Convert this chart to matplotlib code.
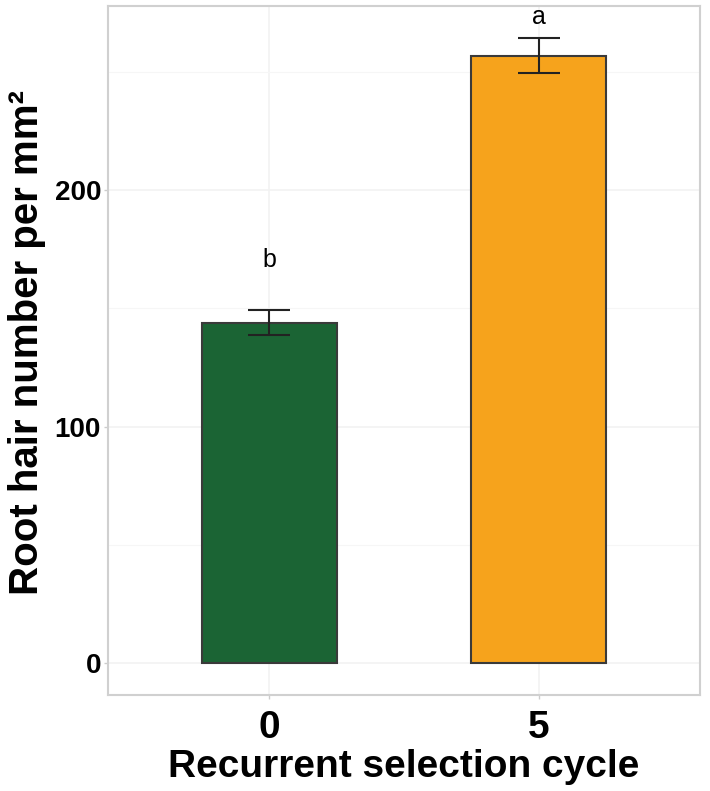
import numpy as np
import matplotlib.pyplot as plt

# data
cycles = ['0', '5']
root_hair = [143.8, 256.8]
std_err = [5.3, 7.4]
letters = ['b', 'a']
letter_y = [170.4, 273.0]
colors = ['#1b6434', '#f6a31c']

plt.rcParams['font.family'] = ['Liberation Sans', 'DejaVu Sans']

fig = plt.figure(figsize=(7.1, 7.91), dpi=100)
ax = fig.add_axes([108 / 710, 1 - 695 / 791, 592 / 710, 689 / 791])

x = np.arange(len(cycles))
ax.bar(x, root_hair, width=0.5, color=colors, edgecolor='#3a3a3a',
       linewidth=1.5, zorder=3)
ax.errorbar(x, root_hair, yerr=std_err, fmt='none', ecolor='#222222',
            elinewidth=1.5, capsize=15, capthick=1.5, zorder=4)
for xi, lab, ly in zip(x, letters, letter_y):
    ax.text(xi, ly, lab, ha='center', va='center', fontsize=18, color='black')

ax.set_xlim(-0.6, 1.6)
ax.set_ylim(-13.5, 277.8)
ax.set_yticks([0, 100, 200])
ax.set_yticks([50, 150, 250], minor=True)
ax.set_xticks(x)
ax.set_xticklabels(cycles)

ax.grid(True, which='major', color='#f2f2f2', linewidth=1.2, zorder=0)
ax.grid(True, which='minor', axis='y', color='#f6f6f6', linewidth=0.8, zorder=0)
for s in ax.spines.values():
    s.set_color('#d0d0d0')
    s.set_linewidth(1.5)

ax.tick_params(axis='y', which='major', length=3, color='#cccccc', width=1,
               labelsize=20, pad=2)
ax.tick_params(axis='y', which='minor', length=0)
ax.tick_params(axis='x', length=3, color='#cccccc', width=1,
               labelsize=28, pad=8)
for t in ax.get_yticklabels() + ax.get_xticklabels():
    t.set_fontweight('bold')

ax.set_xlabel('Recurrent selection cycle', fontsize=28, fontweight='bold')
ax.set_ylabel('Root hair number per mm²', fontsize=29, fontweight='bold')
ax.xaxis.set_label_coords(0.5, -0.079)
ax.yaxis.set_label_coords(-0.104, 0.512)

fig.savefig('out.png', dpi=100)
